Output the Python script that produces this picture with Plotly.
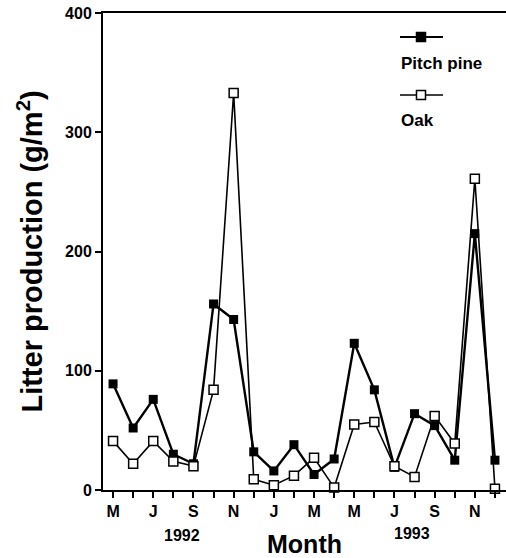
import plotly.graph_objects as go

# Monthly litterfall, May 1992 - Dec 1993
months = ["May 1992", "Jun 1992", "Jul 1992", "Aug 1992", "Sep 1992", "Oct 1992",
          "Nov 1992", "Dec 1992", "Jan 1993", "Feb 1993", "Mar 1993", "Apr 1993",
          "May 1993", "Jun 1993", "Jul 1993", "Aug 1993", "Sep 1993", "Oct 1993",
          "Nov 1993", "Dec 1993"]
label_months = [1, 3, 5, 7, 9, 11, 13, 15, 17, 19]
label_letters = ["M", "J", "S", "N", "J", "M", "M", "J", "S", "N"]
pitch_pine = [89, 52, 76, 30, 22, 156, 143, 32, 16, 38, 13, 26,
              123, 84, 19, 64, 54, 25, 215, 25]
oak = [41, 22, 41, 24, 20, 84, 333, 9, 4, 12, 27, 2,
       55, 57, 20, 11, 62, 39, 261, 1]
y_ticks = [0, 100, 200, 300, 400]

W, H = 506, 558
L, R, T, B = 103, 0, 13, 68
FONT = "Liberation Sans"

idx = list(range(1, len(months) + 1))
PW, PH = W - L - R, H - T - B


def px(x, y):
    """pixel position -> paper coordinates"""
    return (x - L) / PW, (H - B - y) / PH


def bold(size):
    return dict(family=FONT, size=size, color="black", weight="bold")


fig = go.Figure()

fig.add_trace(go.Scatter(
    x=idx, y=pitch_pine, name="Pitch pine", mode="lines+markers",
    line=dict(color="black", width=2.4),
    marker=dict(symbol="square", size=9, color="black"),
    cliponaxis=False, showlegend=False))
fig.add_trace(go.Scatter(
    x=idx, y=oak, name="Oak", mode="lines+markers",
    line=dict(color="black", width=1.6),
    marker=dict(symbol="square", size=9, color="white",
                line=dict(color="black", width=1.5)),
    cliponaxis=False, showlegend=False))

# legend keys: short line with a square in the middle, text underneath
shapes = []
for (ky, sym_fill, lw) in [(37, "black", 2.2), (95, "white", 1.6)]:
    x0, yk = px(400, ky)
    x1, _ = px(443, ky)
    shapes.append(dict(type="line", xref="paper", yref="paper",
                       x0=x0, x1=x1, y0=yk, y1=yk,
                       line=dict(color="black", width=lw)))
    rx0, ry0 = px(421 - 4.5, ky + 4.5)
    rx1, ry1 = px(421 + 4.5, ky - 4.5)
    shapes.append(dict(type="rect", xref="paper", yref="paper",
                       x0=rx0, x1=rx1, y0=ry0, y1=ry1, fillcolor=sym_fill,
                       line=dict(color="black", width=1.5)))

ann = []
for text, (x, y), size in [("Pitch pine", (399, 63), 17), ("Oak", (399, 120), 17)]:
    ax, ay = px(x, y)
    ann.append(dict(text=text, x=ax, y=ay, xref="paper", yref="paper",
                    xanchor="left", yanchor="middle", showarrow=False,
                    font=bold(size)))
for text, (x, y), size in [("1992", (182, 535), 16), ("1993", (412, 533), 16)]:
    ax, ay = px(x, y)
    ann.append(dict(text=text, x=ax, y=ay, xref="paper", yref="paper",
                    xanchor="center", yanchor="middle", showarrow=False,
                    font=bold(size)))

tick_style = dict(ticks="outside", ticklen=6, tickwidth=2, tickcolor="black")

fig.update_layout(
    width=W, height=H,
    margin=dict(l=L, r=R, t=T, b=B),
    paper_bgcolor="white", plot_bgcolor="white",
    xaxis=dict(range=[0.5, 20.55], tickvals=label_months, ticktext=label_letters,
               minor=dict(tickvals=idx, **tick_style),
               showline=True, linecolor="black", linewidth=2, mirror=True,
               showgrid=False, zeroline=False, tickfont=bold(16),
               title=dict(text="Month", font=bold(25), standoff=16),
               **tick_style),
    yaxis=dict(range=[0, 400], tickvals=y_ticks,
               showline=True, linecolor="black", linewidth=2,
               showgrid=False, zeroline=False, tickfont=bold(16),
               title=dict(text="Litter production (g/m<sup>2</sup>)",
                          font=bold(29), standoff=14),
               **tick_style),
    shapes=shapes,
    annotations=ann,
    showlegend=False,
)

fig.write_html("out.html")
